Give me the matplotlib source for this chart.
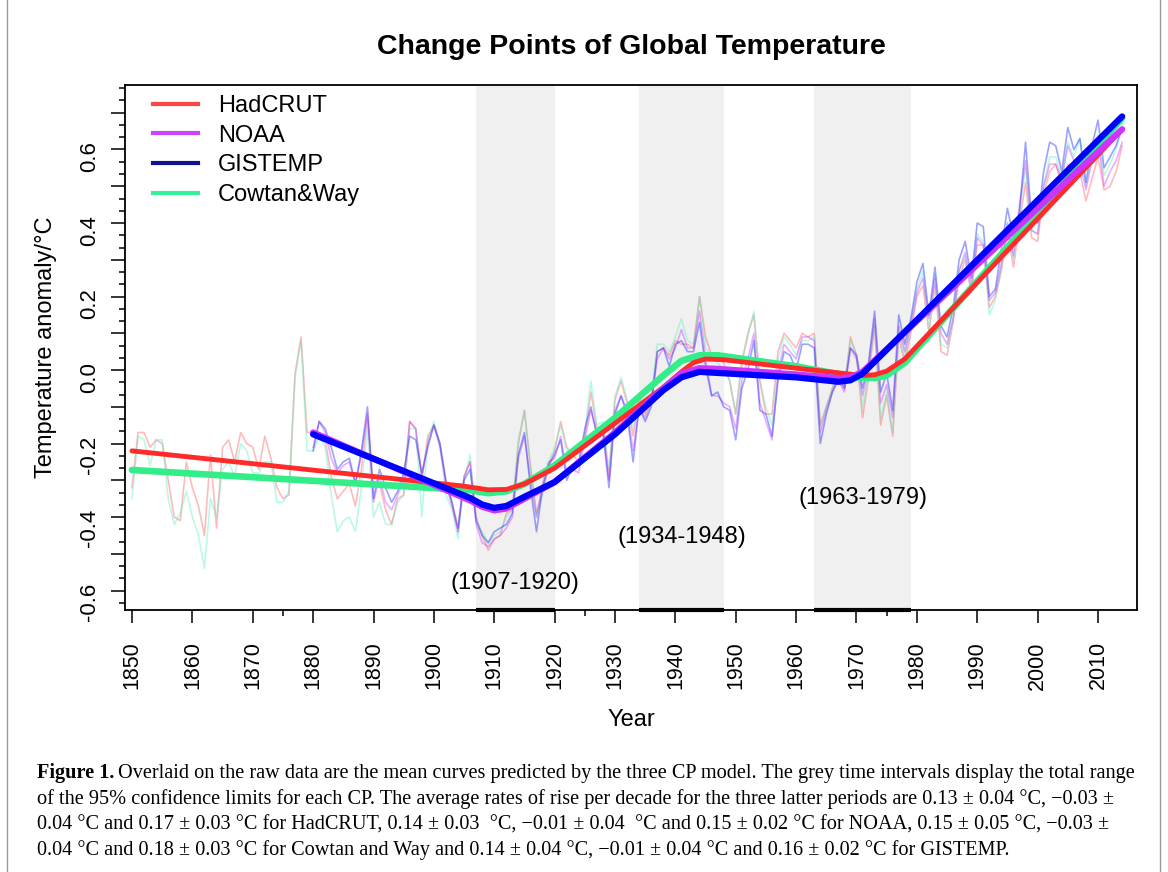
import matplotlib
matplotlib.use('Agg')
import matplotlib.pyplot as plt
from matplotlib.lines import Line2D
from matplotlib.ticker import FuncFormatter
import numpy as np

plt.rcParams['font.family'] = ['Liberation Sans', 'DejaVu Sans']

# ---- raw annual anomalies ----
years_long = np.arange(1850, 2015)   # HadCRUT, Cowtan&Way
years_short = np.arange(1880, 2015)  # NOAA, GISTEMP

hadcrut = [
    -0.32, -0.17, -0.17, -0.21, -0.19, -0.20, -0.30, -0.40, -0.41, -0.25,
    -0.32, -0.37, -0.45, -0.23, -0.43, -0.21, -0.19, -0.25, -0.17, -0.20,
    -0.21, -0.27, -0.18, -0.24, -0.32, -0.35, -0.34, -0.01, 0.09, -0.17,
    -0.17, -0.17, -0.19, -0.29, -0.35, -0.33, -0.31, -0.37, -0.27, -0.13,
    -0.32, -0.31, -0.38, -0.42, -0.35, -0.34, -0.14, -0.16, -0.30, -0.18,
    -0.15, -0.20, -0.31, -0.36, -0.44, -0.29, -0.25, -0.40, -0.45, -0.49,
    -0.46, -0.45, -0.39, -0.38, -0.20, -0.11, -0.26, -0.39, -0.33, -0.26,
    -0.22, -0.14, -0.21, -0.23, -0.25, -0.18, -0.06, -0.16, -0.15, -0.29,
    -0.08, -0.03, -0.09, -0.18, -0.08, -0.12, -0.08, 0.05, 0.06, 0.04,
    0.08, 0.07, 0.07, 0.06, 0.20, 0.09, 0.04, 0.03, 0.02, -0.03,
    -0.12, 0.02, 0.10, 0.15, -0.03, -0.12, -0.12, 0.05, 0.10, 0.08,
    0.06, 0.10, 0.09, 0.10, -0.15, -0.10, -0.05, -0.01, -0.05, 0.09,
    0.04, -0.13, -0.02, 0.12, -0.15, -0.07, -0.18, 0.09, 0.02, 0.10,
    0.20, 0.23, 0.10, 0.23, 0.05, 0.04, 0.13, 0.25, 0.30, 0.21,
    0.34, 0.34, 0.17, 0.20, 0.27, 0.38, 0.28, 0.40, 0.51, 0.36,
    0.35, 0.48, 0.54, 0.56, 0.50, 0.56, 0.54, 0.54, 0.46, 0.52,
    0.58, 0.49, 0.50, 0.54, 0.61]

cowtan = [
    -0.35, -0.18, -0.19, -0.26, -0.19, -0.19, -0.35, -0.42, -0.39, -0.33,
    -0.40, -0.45, -0.54, -0.35, -0.40, -0.27, -0.25, -0.29, -0.20, -0.22,
    -0.28, -0.28, -0.25, -0.25, -0.36, -0.36, -0.33, -0.02, 0.08, -0.22,
    -0.22, -0.18, -0.21, -0.34, -0.44, -0.41, -0.40, -0.44, -0.32, -0.16,
    -0.40, -0.36, -0.42, -0.42, -0.36, -0.34, -0.16, -0.16, -0.40, -0.19,
    -0.14, -0.20, -0.34, -0.38, -0.46, -0.30, -0.23, -0.41, -0.44, -0.47,
    -0.45, -0.44, -0.40, -0.38, -0.19, -0.11, -0.27, -0.40, -0.34, -0.25,
    -0.21, -0.15, -0.22, -0.22, -0.23, -0.17, -0.03, -0.15, -0.14, -0.27,
    -0.07, -0.02, -0.08, -0.16, -0.07, -0.11, -0.07, 0.07, 0.07, 0.05,
    0.09, 0.14, 0.08, 0.07, 0.20, 0.06, 0.04, 0.02, 0.00, -0.03,
    -0.12, 0.02, 0.09, 0.16, -0.03, -0.10, -0.15, 0.03, 0.09, 0.07,
    0.04, 0.08, 0.08, 0.09, -0.15, -0.10, -0.05, -0.01, -0.04, 0.08,
    0.04, -0.10, 0.00, 0.13, -0.13, -0.06, -0.17, 0.11, 0.03, 0.13,
    0.22, 0.27, 0.11, 0.26, 0.07, 0.06, 0.14, 0.27, 0.31, 0.21,
    0.37, 0.35, 0.15, 0.19, 0.28, 0.40, 0.30, 0.43, 0.55, 0.38,
    0.37, 0.50, 0.58, 0.58, 0.52, 0.62, 0.58, 0.63, 0.50, 0.58,
    0.64, 0.53, 0.56, 0.60, 0.67]

noaa = [
    -0.21, -0.14, -0.17, -0.24, -0.28, -0.26, -0.25, -0.31, -0.23, -0.12,
    -0.36, -0.29, -0.36, -0.38, -0.34, -0.30, -0.14, -0.16, -0.29, -0.20,
    -0.15, -0.21, -0.31, -0.37, -0.44, -0.29, -0.25, -0.42, -0.47, -0.48,
    -0.46, -0.45, -0.43, -0.40, -0.24, -0.18, -0.30, -0.40, -0.31, -0.25,
    -0.24, -0.18, -0.28, -0.27, -0.28, -0.19, -0.11, -0.17, -0.16, -0.30,
    -0.11, -0.07, -0.11, -0.22, -0.10, -0.13, -0.09, 0.03, 0.06, 0.03,
    0.06, 0.11, 0.06, 0.06, 0.16, 0.03, -0.07, -0.07, -0.09, -0.10,
    -0.16, -0.03, 0.03, 0.10, -0.09, -0.14, -0.19, -0.01, 0.07, 0.05,
    0.03, 0.09, 0.09, 0.08, -0.17, -0.11, -0.06, -0.03, -0.06, 0.06,
    0.03, -0.07, 0.01, 0.14, -0.09, -0.04, -0.13, 0.12, 0.05, 0.12,
    0.21, 0.25, 0.14, 0.25, 0.10, 0.07, 0.14, 0.27, 0.32, 0.23,
    0.36, 0.34, 0.19, 0.21, 0.29, 0.40, 0.31, 0.45, 0.57, 0.38,
    0.37, 0.50, 0.56, 0.56, 0.52, 0.61, 0.57, 0.57, 0.49, 0.57,
    0.63, 0.50, 0.54, 0.57, 0.62]

gistemp = [
    -0.22, -0.14, -0.16, -0.21, -0.27, -0.25, -0.24, -0.31, -0.22, -0.10,
    -0.35, -0.27, -0.32, -0.36, -0.33, -0.28, -0.18, -0.19, -0.28, -0.21,
    -0.15, -0.20, -0.30, -0.36, -0.43, -0.30, -0.27, -0.41, -0.45, -0.47,
    -0.44, -0.43, -0.42, -0.39, -0.23, -0.17, -0.32, -0.44, -0.32, -0.26,
    -0.23, -0.19, -0.30, -0.26, -0.25, -0.16, -0.10, -0.18, -0.17, -0.32,
    -0.12, -0.07, -0.12, -0.25, -0.10, -0.14, -0.10, 0.05, 0.06, 0.01,
    0.07, 0.08, 0.05, 0.05, 0.13, 0.01, -0.07, -0.06, -0.10, -0.11,
    -0.19, -0.05, 0.00, 0.08, -0.11, -0.12, -0.18, -0.03, 0.05, 0.04,
    0.00, 0.07, 0.07, 0.06, -0.20, -0.12, -0.06, -0.02, -0.05, 0.06,
    0.04, -0.05, 0.02, 0.16, -0.06, -0.01, -0.11, 0.15, 0.07, 0.14,
    0.24, 0.29, 0.15, 0.28, 0.12, 0.09, 0.17, 0.30, 0.35, 0.25,
    0.40, 0.39, 0.20, 0.22, 0.33, 0.44, 0.36, 0.43, 0.62, 0.41,
    0.40, 0.54, 0.62, 0.61, 0.54, 0.66, 0.60, 0.63, 0.51, 0.61,
    0.68, 0.55, 0.58, 0.61, 0.66]

# ---- mean curves of the three CP model (knots) ----
had_fit_x = [1850, 1905, 1909, 1912, 1915, 1920, 1930, 1938, 1941, 1943, 1945,
             1948, 1960, 1971, 1973, 1975, 1978, 2014]
had_fit_y = [-0.22, -0.316, -0.326, -0.325, -0.31, -0.267, -0.145, -0.047, -0.005,
             0.02, 0.03, 0.028, 0.005, -0.015, -0.013, -0.003, 0.03, 0.655]

cw_fit_x = [1850, 1906, 1909, 1912, 1915, 1920, 1930, 1938, 1941, 1944, 1947,
            1960, 1970, 1973, 1975, 1978, 2014]
cw_fit_y = [-0.272, -0.327, -0.335, -0.33, -0.31, -0.26, -0.13, -0.015, 0.025,
            0.04, 0.04, 0.01, -0.02, -0.022, -0.015, 0.02, 0.685]

noaa_fit_x = [1880, 1906, 1908, 1910, 1912, 1915, 1920, 1930, 1938, 1941, 1944,
              1947, 1960, 1967, 1969, 1971, 2014]
noaa_fit_y = [-0.17, -0.355, -0.372, -0.382, -0.377, -0.35, -0.305, -0.17, -0.05,
              -0.01, 0.005, 0.003, -0.012, -0.022, -0.02, -0.005, 0.655]

gis_fit_x = [1880, 1906, 1908, 1910, 1912, 1915, 1920, 1930, 1938, 1941, 1944,
             1947, 1960, 1967, 1969, 1971, 2014]
gis_fit_y = [-0.175, -0.348, -0.366, -0.375, -0.37, -0.345, -0.305, -0.175, -0.055,
             -0.02, -0.005, -0.008, -0.02, -0.032, -0.028, -0.01, 0.69]

cp_intervals = [(1907, 1920), (1934, 1948), (1963, 1979)]
cp_label_y = [-0.58, -0.454, -0.348]

series_names = ['HadCRUT', 'NOAA', 'GISTEMP', 'Cowtan&Way']
legend_colors = ['#ff4444', '#cc44ff', '#101090', '#33f099']

W, H = 1168, 872
fig = plt.figure(figsize=(W / 100, H / 100), dpi=100)
ax = fig.add_axes([125 / W, 1 - 610 / H, (1137 - 125) / W, (610 - 85) / H])

ymin, ymax = -0.653, 0.7755
ax.set_xlim(1848.84, 2016.46)
ax.set_ylim(ymin, ymax)

# grey confidence intervals for the change points
for (a, b), ly in zip(cp_intervals, cp_label_y):
    ax.axvspan(a, b, color='#f0f0f0', lw=0, zorder=0)
    ax.hlines(ymin, a, b, color='black', lw=3, clip_on=False, zorder=5)
    ax.text((a + b) / 2, ly, f'({a}-{b})', ha='center', va='center', fontsize=17, zorder=6)

# raw data
ax.plot(years_long, hadcrut, color='#ff5555', lw=1.2, alpha=0.4, zorder=2)
ax.plot(years_long, cowtan, color='#55f0c0', lw=1.2, alpha=0.4, zorder=2)
ax.plot(years_short, noaa, color='#cc33ff', lw=1.2, alpha=0.4, zorder=2)
ax.plot(years_short, gistemp, color='#2233ff', lw=1.2, alpha=0.45, zorder=2)

# fitted curves
ax.plot(cw_fit_x, cw_fit_y, color='#33ee88', lw=4.8, solid_capstyle='round', zorder=3)
ax.plot(had_fit_x, had_fit_y, color='#ff2a2a', lw=3.5, solid_capstyle='round', zorder=3)
ax.plot(noaa_fit_x, noaa_fit_y, color='#cc33ff', lw=4.5, solid_capstyle='round', zorder=3)
ax.plot(gis_fit_x, gis_fit_y, color='#0000ff', lw=4.5, solid_capstyle='round', zorder=3)

# axes styling (R base graphics look)
for s in ax.spines.values():
    s.set_linewidth(1.3)
ax.set_xticks(np.arange(1850, 2011, 10))
ax.set_xticks([1875, 1925, 1975], minor=True)
ax.set_yticks(np.arange(-6, 8) / 10)
ax.set_yticks(np.arange(-19, 24) / 30, minor=True)


def ylab(v, pos):
    k = int(round(v * 10))
    if k % 2:
        return ''
    return f'{k / 10:.1f}'


ax.yaxis.set_major_formatter(FuncFormatter(ylab))
ax.tick_params(axis='x', which='major', length=9.5, width=1.1, labelsize=15.5,
               labelrotation=90, pad=13)
ax.tick_params(axis='x', which='minor', length=4.5, width=1.1)
ax.tick_params(axis='y', which='major', length=10, width=1.1, labelsize=16,
               labelrotation=90, pad=8)
ax.tick_params(axis='y', which='minor', length=4.5, width=1.1)

# legend
handles = [Line2D([], [], color=c, lw=3) for c in legend_colors]
ax.legend(handles, series_names, loc='upper left', frameon=False, fontsize=17,
          bbox_to_anchor=(141 / W, 1 - 83 / H), bbox_transform=fig.transFigure,
          borderpad=0, handlelength=1.9, handletextpad=0.85, labelspacing=0.33)

fig.text(631 / W, 1 - 47 / H, 'Change Points of Global Temperature', ha='center',
         va='center', fontsize=20.5, fontweight='bold')
fig.text(46 / W, 1 - 347 / H, 'Temperature anomaly/°C', rotation=90, ha='center',
         va='center', fontsize=17)
fig.text(631 / W, 1 - 720 / H, 'Year', ha='center', va='center', fontsize=17)

# thin page frame
fig.add_artist(Line2D([7 / W, 7 / W], [0, 1], color='#999999', lw=1))
fig.add_artist(Line2D([1160 / W, 1160 / W], [0, 1], color='#999999', lw=1))

# caption
serif = ['Liberation Serif', 'DejaVu Serif']
cap_lines = [
    'Overlaid on the raw data are the mean curves predicted by the three CP model. '
    'The grey time intervals display the total range',
    'of the 95% confidence limits for each CP. The average rates of rise per decade '
    'for the three latter periods are 0.13 ± 0.04 °C, −0.03 ±',
    '0.04 °C and 0.17 ± 0.03 °C for HadCRUT, 0.14 ± 0.03  °C, −0.01 ± 0.04  °C and '
    '0.15 ± 0.02 °C for NOAA, 0.15 ± 0.05 °C, −0.03 ±',
    '0.04 °C and 0.18 ± 0.03 °C for Cowtan and Way and 0.14 ± 0.04 °C, −0.01 ± 0.04 °C '
    'and 0.16 ± 0.02 °C for GISTEMP.',
]
cap_y = [773, 799, 825, 850]
cap_size = 14.6
bold = fig.text(37 / W, 1 - cap_y[0] / H, 'Figure 1.', family=serif, fontsize=cap_size,
                fontweight='bold', ha='left', va='center')
fig.canvas.draw()
bx = bold.get_window_extent().x1
fig.text((bx + 4) / W, 1 - cap_y[0] / H, cap_lines[0], family=serif, fontsize=cap_size,
         ha='left', va='center')
for line, y in zip(cap_lines[1:], cap_y[1:]):
    fig.text(37 / W, 1 - y / H, line, family=serif, fontsize=cap_size, ha='left', va='center')

fig.savefig('out.png', dpi=100)
